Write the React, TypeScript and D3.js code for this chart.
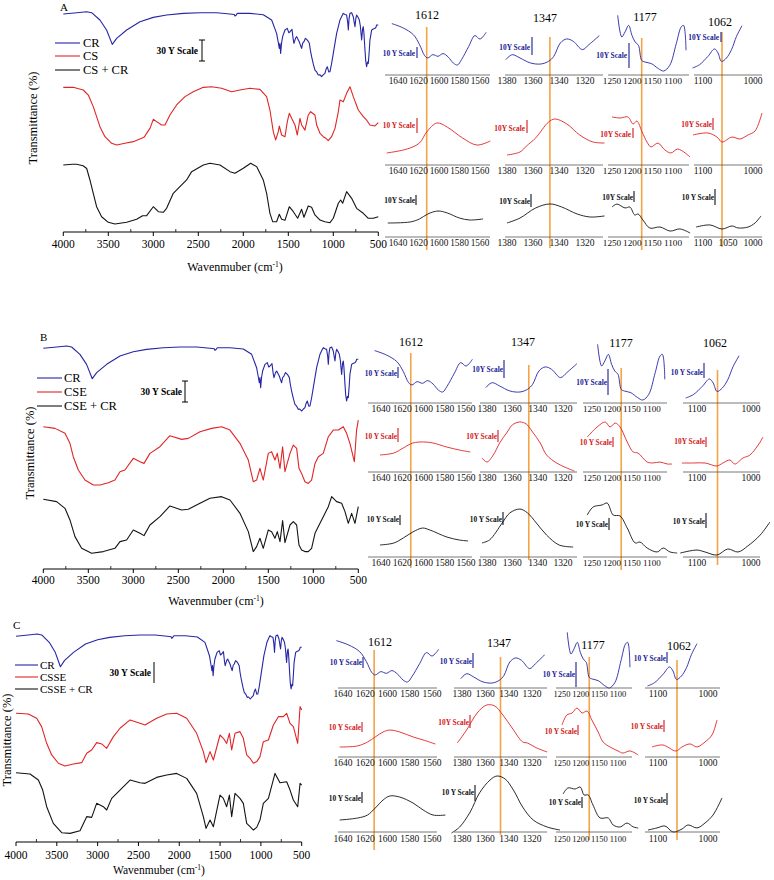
import React from "react";
import * as d3 from "d3";

type P = [number, number];

const FONT = "'Liberation Serif','Times New Roman',Times,serif";
const BLUE = "#2626a6";
const RED = "#e02525";
const BLACK = "#141414";
const ORANGE = "#f4a445";
const BLUE_TXT = "#1b1b94";
const RED_TXT = "#d21818";
const SERIES_COLORS = [BLUE, RED, BLACK];
const TEXT_COLORS = [BLUE_TXT, RED_TXT, "#111"];

// ---------------- main spectra: [wavenumber cm-1, transmittance a.u.] ----------------
const CR_MAIN: P[] = [[4000,96.7],[3850,98.5],[3741,100],[3685,98.6],[3593,88.1],[3519,73.8],[3456,53.3],[3407,61.9],[3296,73.8],[3148,85.7],[3000,91.9],[2852,95.2],[2667,97.6],[2481,98.6],[2296,98.6],[2148,96.7],[2100,96],[2093,93.8],[2080,95],[2067,97.6],[1926,97.6],[1778,95.7],[1685,88.1],[1630,69],[1610,55],[1600,47.6],[1593,55],[1585,40.5],[1575,55],[1563,64.3],[1537,73.8],[1511,76.2],[1495,70],[1481,71.4],[1459,74.8],[1445,60],[1437,54.8],[1420,62],[1407,64.3],[1390,60],[1378,57.1],[1365,52],[1352,47.6],[1340,55],[1326,57.1],[1310,62],[1296,60.5],[1280,58],[1266,54.8],[1255,45],[1241,35.7],[1220,24],[1204,16.7],[1185,14],[1167,9.5],[1150,10],[1130,7.1],[1110,10],[1093,11.9],[1080,18],[1067,21.4],[1050,14],[1037,14.3],[1020,25],[1000,40.5],[963,69],[926,88.1],[900,95],[889,97.6],[870,96],[852,95.2],[840,85],[833,73.8],[825,90],[815,97.6],[796,98.6],[778,92.9],[768,85],[759,78.6],[750,90],[741,95.2],[725,92],[711,88.1],[700,80],[685,59.5],[675,75],[667,78.6],[660,70],[648,45.2],[640,30],[630,21.4],[620,28],[611,26.2],[600,45],[593,59.5],[574,73.8],[560,75],[537,76.2],[525,78],[519,81],[500,81]];

const CS_MAIN: P[] = [[4000,98.1],[3889,98.1],[3830,96],[3778,94.3],[3722,87.1],[3667,70.5],[3630,56.2],[3593,41.9],[3537,27.6],[3463,18.1],[3407,15.7],[3315,18.1],[3222,20.5],[3130,25.3],[3100,27],[3074,32.4],[3037,39.5],[3000,52.4],[2963,49.1],[2907,44.3],[2870,44.3],[2815,58.6],[2741,72.9],[2648,84.8],[2556,91.9],[2444,98.1],[2352,99],[2241,96.7],[2130,91.9],[2037,94.3],[1926,96.7],[1815,95.2],[1741,84.8],[1704,65.7],[1667,34.8],[1641,22.9],[1611,34.8],[1600,42.9],[1574,30],[1537,27.6],[1511,49.1],[1489,61],[1463,53.8],[1426,44.3],[1400,30],[1370,53.8],[1352,44.3],[1315,37],[1278,58.6],[1252,63.3],[1204,58.6],[1185,44.3],[1148,32.4],[1111,27.6],[1082,25.3],[1056,21.9],[1019,27.6],[981,39.5],[944,63.3],[926,80],[889,77.6],[852,89.5],[815,99],[778,84.8],[722,65.7],[667,56.2],[630,51.4],[593,44.3],[537,42.9],[500,47.6]];

const CSCR_MAIN: P[] = [[4000,99],[3900,100],[3852,100],[3780,98],[3740,94],[3704,77.6],[3667,58.6],[3630,39.4],[3574,25.1],[3500,17.1],[3426,14.7],[3296,17.1],[3185,21.4],[3119,26.6],[3074,26.6],[3000,39.4],[2944,32.3],[2889,31.4],[2852,37.1],[2778,58.6],[2704,68],[2630,77.6],[2574,89.5],[2444,99],[2370,101.4],[2259,99],[2148,89.5],[2093,87.1],[2000,94.3],[1918,101.4],[1852,96.7],[1778,77.6],[1741,58.6],[1704,30],[1674,18],[1630,18],[1600,28.6],[1574,21.4],[1537,20],[1489,39.4],[1444,32.3],[1396,22.9],[1352,35.7],[1326,24.3],[1278,40.4],[1241,38.6],[1204,27.6],[1148,20.4],[1093,18],[1037,16.6],[1000,22.9],[944,44.3],[918,49],[896,44.3],[852,60.9],[796,51.4],[741,37.1],[667,30],[611,22.9],[556,22.9],[500,25.1]];

const CSE_MAIN: P[] = [[4000,100],[3870,97.6],[3759,90.5],[3704,76.2],[3667,57.1],[3611,38.1],[3537,23.8],[3444,16.7],[3370,16.7],[3278,20],[3204,23.8],[3148,35.7],[3093,38.1],[3000,54.8],[2926,50],[2881,47.6],[2815,61.9],[2704,71.4],[2593,87.1],[2463,81.9],[2389,83.3],[2259,92.9],[2130,97.6],[2019,100],[1926,95.2],[1815,76.2],[1722,52.4],[1667,21.4],[1630,23.8],[1593,40.5],[1556,23.8],[1500,61.9],[1463,64.3],[1426,52.4],[1400,61.9],[1370,40.5],[1341,71.4],[1315,35.7],[1259,61.9],[1222,73.8],[1185,69],[1159,40.5],[1130,33.3],[1093,21.4],[1056,19],[1019,23.8],[981,47.6],[944,57.1],[889,61.9],[833,85.7],[778,95.2],[722,95.2],[667,100],[630,90.5],[593,76.2],[544,50],[519,95.2],[500,109.5]];

const CSECR_MAIN: P[] = [[4000,100],[3852,96.7],[3759,87.1],[3704,70.5],[3648,46.7],[3574,30],[3463,22.9],[3333,25.3],[3204,30],[3148,39.5],[3074,41.9],[3000,56.2],[2926,51.4],[2881,48.1],[2815,63.3],[2704,75.2],[2593,90.5],[2463,84.8],[2389,85.7],[2259,94.3],[2148,101.4],[2019,103.8],[1926,99],[1815,80],[1722,53.8],[1667,25.3],[1630,32.4],[1593,44.3],[1556,30],[1500,56.2],[1463,53.8],[1426,44.3],[1400,53.8],[1370,39.5],[1341,69.5],[1315,38.1],[1259,63.3],[1222,68.1],[1185,63.3],[1159,34.8],[1130,27.6],[1093,25.3],[1056,25.3],[1019,30],[981,51.4],[944,61],[889,75.2],[833,89.5],[796,103.8],[741,96.7],[685,94.3],[648,82.4],[611,65.7],[574,80],[537,65.7],[500,89.5]];

const CSSE_MAIN: P[] = [[4000,100],[3849,99],[3747,92.9],[3686,81],[3624,57.1],[3563,40.5],[3481,28.6],[3400,24.8],[3298,27.6],[3195,29.5],[3134,42.9],[3073,47.6],[3012,58.1],[2950,56.2],[2889,50],[2807,66.7],[2726,78.6],[2603,90.5],[2481,85.7],[2419,83.3],[2277,92.9],[2154,99],[2032,100],[1909,92.9],[1787,71.4],[1705,45.2],[1672,29.5],[1623,45.2],[1582,33.3],[1501,69],[1460,64.3],[1419,57.1],[1386,71.4],[1358,47.6],[1317,71.4],[1256,73.8],[1215,64.3],[1174,40.5],[1133,35.7],[1092,28.6],[1051,31],[1011,38.1],[970,59.5],[908,61.9],[847,83.3],[786,95.2],[725,95.2],[684,100],[643,85.7],[602,81],[549,57.1],[520,109.5],[500,104.8]];

const CSSECR_MAIN: P[] = [[4000,100],[3828,98.1],[3726,89.5],[3673,75.2],[3624,51.4],[3543,27.6],[3440,14.3],[3338,13.3],[3216,17.1],[3134,37.2],[3073,36.2],[3012,56.2],[2930,51.4],[2889,46.7],[2828,63.3],[2726,75.2],[2603,89.5],[2481,85.7],[2419,84.8],[2277,93.3],[2154,96.7],[2032,99],[1909,91.9],[1787,70.5],[1705,37.2],[1672,20.5],[1623,32.4],[1582,22.9],[1501,68.1],[1460,63.3],[1419,51.4],[1386,68.1],[1358,37.2],[1317,70.5],[1256,63.3],[1215,56.2],[1174,27.6],[1133,22.9],[1092,18.1],[1051,21.9],[1011,32.4],[970,56.2],[908,63.3],[827,99],[766,85.7],[684,87.1],[643,75.2],[602,61],[549,51.4],[520,84.8],[500,82.4]];

// ---------------- inset spectra: [wavenumber, relative transmittance] ----------------
const CR_1612: P[] = [[1646,27.6],[1635,24.7],[1625,20.2],[1619,13.6],[1614,6.2],[1611,4.7],[1606,6.9],[1601,5.8],[1596,7.6],[1591,5.3],[1586,1.3],[1582,0],[1578,3.6],[1571,12.4],[1565,19.6],[1560,17.3],[1554,21.8]];
const CR_1347: P[] = [[1381,2.9],[1376,6.2],[1370,4],[1362,0.7],[1354,0],[1348,1.8],[1344,5.1],[1339,14],[1334,16.7],[1329,15.1],[1322,9.6],[1317,12.9],[1309,18.9]];
const CR_1177: P[] = [[1236,37.1],[1226,22.7],[1218,26],[1209,30.4],[1201,23.8],[1193,19.3],[1185,17.1],[1177,7.1],[1169,6],[1153,4.9],[1136,1.6],[1123,0],[1108,3.8],[1092,18.2],[1080,29.3],[1074,30.4],[1068,13.8]];
const CR_1062: P[] = [[1121,0],[1107,2.2],[1090,7.8],[1077,12.7],[1070,10],[1063,4.4],[1053,6.7],[1043,12.2],[1033,21.1],[1022,28.2]];

const CS_1612: P[] = [[1651,0],[1631,2.7],[1619,6.7],[1612,14],[1602,20],[1592,17.3],[1577,10],[1563,5.3],[1550,8]];
const CS_1347: P[] = [[1380,0],[1370,2],[1365,6],[1358,11.3],[1348,22],[1343,24],[1334,20.7],[1324,13.3],[1314,8.7],[1305,8]];
const CS_1177: P[] = [[1250,26.7],[1230,26],[1211,26.7],[1198,22],[1189,24],[1176,16.7],[1164,10],[1154,6.7],[1137,9.3],[1120,4.7],[1105,2.7],[1088,5.3],[1058,0]];
const CS_1062: P[] = [[1120,4.7],[1090,6],[1072,3.3],[1062,0],[1042,3.3],[1026,2],[1010,4.7],[996,7.3],[982,19.3]];

const CSCR_1612: P[] = [[1650,0],[1628,0.7],[1619,2.7],[1611,6],[1601,8],[1592,6.7],[1580,3.3],[1570,2],[1557,2.7]];
const CSCR_1347: P[] = [[1380,0],[1370,3.3],[1358,10],[1347,12.7],[1338,10.7],[1326,6],[1316,4],[1305,4.7]];
const CSCR_1177: P[] = [[1250,17.3],[1238,19.3],[1218,16.7],[1206,17.3],[1194,12],[1186,12.7],[1174,8.7],[1157,3.3],[1132,4],[1107,1.3],[1083,2.7],[1058,0]];
const CSCR_1062: P[] = [[1114,1.3],[1086,2.7],[1062,0],[1042,2],[1030,0.7],[1010,1.3],[996,4],[984,8.7]];

const CSE_1612: P[] = [[1641,0],[1628,1.3],[1619,4.7],[1610,8],[1600,8.7],[1591,8],[1578,5.3],[1566,3.3],[1556,2]];
const CSE_1347: P[] = [[1384,8.7],[1380,6],[1375,10.7],[1370,18.7],[1364,26],[1360,30.7],[1354,32.7],[1349,31.3],[1344,26],[1338,18.7],[1333,10.7],[1325,5.3],[1317,2],[1311,0]];
const CSE_1177: P[] = [[1262,18],[1237,24.7],[1217,28],[1205,24.7],[1192,27.3],[1180,24.7],[1162,14.7],[1147,8],[1135,7.3],[1112,1.3],[1097,0.7],[1080,1.3],[1062,0],[1050,0]];
const CSE_1062: P[] = [[1128,2],[1107,2],[1085,2],[1063,0],[1052,2],[1039,4],[1030,1.3],[1015,5.3],[1002,7.3],[983,16],[978,19.3]];

const CSECR_1612: P[] = [[1641,0],[1628,1.3],[1619,4.7],[1610,8.7],[1601,11.3],[1594,10],[1578,5.3],[1566,3.3],[1558,2.7]];
const CSECR_1347: P[] = [[1384,2.7],[1378,4.7],[1368,16],[1362,22.7],[1354,25.3],[1348,22.7],[1341,16],[1333,8],[1323,1.3],[1312,0]];
const CSECR_1177: P[] = [[1262,25.3],[1247,30.7],[1225,32],[1212,33.3],[1197,25.3],[1180,24.7],[1162,16.7],[1142,6.7],[1130,7.3],[1112,3.3],[1087,0.7],[1072,3.3],[1055,0.7],[1037,0]];
const CSECR_1062: P[] = [[1131,1.3],[1100,3.3],[1085,2],[1063,0],[1043,4],[1024,2],[1006,6],[983,13.3],[965,22]];

const CSSE_1612: P[] = [[1643,0],[1627,0.7],[1618,3.3],[1611,6.7],[1604,10],[1598,11.3],[1589,10],[1577,6.7],[1568,4.7],[1557,2]];
const CSSE_1347: P[] = [[1384,6],[1376,14.7],[1367,26],[1359,31.3],[1352,30.7],[1345,24.7],[1337,16],[1328,6.7],[1324,6],[1316,2.7],[1307,0]];
const CSSE_1177: P[] = [[1250,20],[1237,26.7],[1223,28],[1210,31.3],[1196,28],[1183,29.3],[1170,23.3],[1153,15.3],[1140,8.7],[1121,5.3],[1100,2.7],[1087,1.3],[1068,2.7],[1046,0]];
const CSSE_1062: P[] = [[1112,2.7],[1090,4],[1064,0],[1052,2.7],[1036,4.7],[1022,2.7],[1006,6],[992,10.7],[982,20.7]];

const CSSECR_1612: P[] = [[1643,0],[1627,1.3],[1618,3.3],[1611,8],[1604,13.3],[1598,16],[1589,15.3],[1577,11.3],[1568,6.7],[1559,3.3],[1548,3.3]];
const CSSECR_1347: P[] = [[1389,0],[1382,4],[1373,14],[1365,26.7],[1356,35.3],[1350,38],[1343,36],[1336,28.7],[1328,17.3],[1319,8.7],[1307,4],[1296,2]];
const CSSECR_1177: P[] = [[1247,22.7],[1234,26.7],[1215,26],[1201,27.3],[1191,22],[1180,22],[1167,15.3],[1148,6.7],[1126,6.7],[1113,2],[1094,0.7],[1076,3.3],[1059,0.7],[1046,0]];
const CSSECR_1062: P[] = [[1120,1.3],[1102,2.7],[1086,4],[1070,0],[1052,2],[1040,4.7],[1022,2.7],[1006,6],[990,11.3],[972,22.7]];

// ---------------- axis ticks / labels ----------------
const MAIN_TICKS = [4000, 3500, 3000, 2500, 2000, 1500, 1000, 500];
const MINOR_TICKS = [3750, 3250, 2750, 2250, 1750, 1250, 750];
const PEAKS = [1612, 1347, 1177, 1062];
const INSET_TICKS = [[1640, 1620, 1600, 1580, 1560], [1380, 1360, 1340, 1320], [1250, 1200, 1150, 1100], [1100, 1000]];
const INSET_TICKS_A3_COL4 = [1100, 1050, 1000];

// ---------------- layout ----------------
const PANELS = [
  {
    letter: "A", letterPos: [60, 11], xr: [63.3, 378.3], axisY: 232, tickLabelY: 244, title: [235, 267], titleSize: 12,
    tops: [11.7, 86, 164.3], series: [CR_MAIN, CS_MAIN, CSCR_MAIN],
    legend: ["CR", "CS", "CS + CR"], legendX: [55, 80, 83], legendY: [43, 56, 70], legendSize: 12.5,
    scale: { tx: 198, ty: 51, bx: 202, y0: 40, caps: true }, ylab: [33, 118],
    insets: [[CR_1612, CR_1347, CR_1177, CR_1062], [CS_1612, CS_1347, CS_1177, CS_1062], [CSCR_1612, CSCR_1347, CSCR_1177, CSCR_1062]],
    geo: {
      xRef: [[398, 480], [507, 585], [612, 673], [703, 753]],
      axisX: [[385, 490], [505, 603], [608, 689], [694, 762]],
      rowAxisY: [75, 165, 237], rowLabelY: [81, 171, 243],
      base: [[65, 64, 71, 68], [153, 155, 157, 142], [223, 223, 233, 229]],
      title: [[427, 15], [545, 18], [645, 17], [720, 22]],
      orange: [[27, 250], [37, 248], [38, 250], [32, 247]],
      scales: [
        [["10 Y Scale", 415, 53, 417, 47, 58], ["10Y Scale", 530, 47, 532, 37, 55], ["10Y Scale", 627, 55, 629, 43, 68], ["10Y Scale", 719, 37, 721, 32, 42]],
        [["10 Y Scale", 415, 125, 417, 118, 133], ["10Y Scale", 525, 128, 527, 120, 133], ["10Y Scale", 631, 134, 633, 128, 138], ["10Y Scale", 712, 124, 713, 118, 130]],
        [["10Y Scale", 415, 200, 416, 195, 205], ["10Y Scale", 530, 201, 531, 194, 207], ["10Y Scale", 633, 197, 634, 191, 202], ["10 Y Scale", 714, 197, 715, 189, 205]],
      ],
    },
  },
  {
    letter: "B", letterPos: [40, 341], xr: [43.3, 358.3], axisY: 569, tickLabelY: 580, title: [216, 601], titleSize: 12,
    tops: [346, 426.7, 499.3], series: [CR_MAIN, CSE_MAIN, CSECR_MAIN],
    legend: ["CR", "CSE", "CSE + CR"], legendX: [37, 62, 64], legendY: [378, 392, 406], legendSize: 12.5,
    scale: { tx: 182, ty: 392, bx: 185, y0: 381, caps: true }, ylab: [30, 453],
    insets: [[CR_1612, CR_1347, CR_1177, CR_1062], [CSE_1612, CSE_1347, CSE_1177, CSE_1062], [CSECR_1612, CSECR_1347, CSECR_1177, CSECR_1062]],
    geo: {
      xRef: [[381, 466], [487, 563], [592, 652], [697, 751]],
      axisX: [[368, 472], [480, 577], [583, 667], [683, 760]],
      rowAxisY: [403, 472, 557], rowLabelY: [409, 478, 563],
      base: [[392, 392, 400, 398], [455, 471, 464, 466], [545, 547, 553, 555]],
      title: [[411, 342], [523, 342], [621, 343], [715, 343]],
      orange: [[353, 568], [365, 560], [368, 570], [370, 565]],
      scales: [
        [["10 Y Scale", 397, 373, 398, 367, 378], ["10Y Scale", 503, 369, 504, 360, 378], ["10Y Scale", 607, 382, 608, 369, 395], ["10 Y Scale", 703, 372, 704, 363, 378]],
        [["10 Y Scale", 397, 436, 398, 428, 442], ["10Y Scale", 497, 436, 498, 430, 442], ["10 Y Scale", 612, 442, 613, 437, 447], ["10Y Scale", 705, 441, 706, 437, 447]],
        [["10 Y Scale", 399, 519, 400, 515, 525], ["10 Y Scale", 502, 519, 503, 512, 525], ["10 Y Scale", 608, 524, 609, 518, 530], ["10 Y Scale", 705, 521, 706, 513, 528]],
      ],
    },
  },
  {
    letter: "C", letterPos: [13, 629], xr: [16, 301.7], axisY: 842, tickLabelY: 855, title: [159, 870], titleSize: 11.5,
    tops: [634, 713.3, 772.7], series: [CR_MAIN, CSSE_MAIN, CSSECR_MAIN],
    legend: ["CR", "CSSE", "CSSE + CR"], legendX: [15, 38, 40], legendY: [665, 677, 689], legendSize: 11,
    scale: { tx: 151, ty: 673, bx: 154, y0: 662, caps: false }, ylab: [7, 740],
    insets: [[CR_1612, CR_1347, CR_1177, CR_1062], [CSSE_1612, CSSE_1347, CSSE_1177, CSSE_1062], [CSSECR_1612, CSSECR_1347, CSSECR_1177, CSSECR_1062]],
    geo: {
      xRef: [[343, 432], [462, 532], [562, 618], [658, 708]],
      axisX: [[338, 437], [454, 547], [556, 632], [645, 720]],
      rowAxisY: [688, 757, 832], rowLabelY: [694, 763, 839],
      base: [[682, 683, 688, 686], [747, 752, 755, 751], [820, 833, 828, 832]],
      title: [[380, 642], [499, 643], [593, 645], [679, 646]],
      orange: [[650, 850], [657, 835], [657, 840], [660, 840]],
      scales: [
        [["10 Y Scale", 362, 662, 363, 657, 668], ["10 Y Scale", 472, 661, 473, 653, 668], ["10 Y Scale", 575, 674, 576, 662, 687], ["10 Y Scale", 666, 658, 667, 652, 663]],
        [["10 Y Scale", 361, 727, 362, 722, 732], ["10Y Scale", 469, 722, 470, 715, 728], ["10 Y Scale", 577, 731, 578, 725, 735], ["10 Y Scale", 663, 726, 664, 720, 732]],
        [["10 Y Scale", 361, 798, 362, 792, 803], ["10 Y Scale", 474, 792, 475, 785, 801], ["10 Y Scale", 581, 802, 582, 797, 808], ["10 Y Scale", 666, 800, 667, 793, 805]],
      ],
    },
  },
];

const MAIN_PX_PER_UNIT = 0.7;
const INSET_PX_PER_UNIT = 1.5;

function MainPanel({ p }: { p: any }) {
  const x = d3.scaleLinear().domain([4000, 500]).range(p.xr);
  const scaleY = d3.scaleLinear().domain([0, 30]).range([p.scale.y0, p.scale.y0 + 30 * MAIN_PX_PER_UNIT]);
  return (
    <g>
      <text x={p.letterPos[0]} y={p.letterPos[1]} fontSize={11}>{p.letter}</text>
      {p.series.map((s: P[], i: number) => {
        const y = d3.scaleLinear().domain([100, 0]).range([p.tops[i], p.tops[i] + 100 * MAIN_PX_PER_UNIT]);
        const d = d3.line<P>().x((v) => x(v[0])).y((v) => y(v[1])).curve(d3.curveLinear)(s) || "";
        return <path key={i} d={d} fill="none" stroke={SERIES_COLORS[i]} strokeWidth={1.1} strokeLinejoin="round" />;
      })}
      <line x1={p.xr[0]} x2={p.xr[1]} y1={p.axisY} y2={p.axisY} stroke="#000" strokeWidth={1} />
      {MAIN_TICKS.map((t) => (
        <g key={t}>
          <line x1={x(t)} x2={x(t)} y1={p.axisY} y2={p.axisY + 4} stroke="#000" strokeWidth={1} />
          <text x={x(t)} y={p.tickLabelY + 4} fontSize={11.5} textAnchor="middle">{t}</text>
        </g>
      ))}
      {MINOR_TICKS.map((t) => (
        <line key={t} x1={x(t)} x2={x(t)} y1={p.axisY} y2={p.axisY - 3} stroke="#000" strokeWidth={0.8} />
      ))}
      <text x={p.title[0]} y={p.title[1] + 4} fontSize={p.titleSize} textAnchor="middle">
        Wavenmuber (cm<tspan fontSize={7.5} dy={-4.5}>-1</tspan><tspan dy={4.5}>)</tspan>
      </text>
      <text transform={`translate(${p.ylab[0]},${p.ylab[1]}) rotate(-90)`} fontSize={12.5} textAnchor="middle" dy={4}>
        Transmittance (%)
      </text>
      {p.legend.map((lab: string, i: number) => (
        <g key={lab}>
          <line x1={p.legendX[0]} x2={p.legendX[1]} y1={p.legendY[i]} y2={p.legendY[i]} stroke={SERIES_COLORS[i]} strokeWidth={1.1} />
          <text x={p.legendX[2]} y={p.legendY[i] + p.legendSize * 0.35} fontSize={p.legendSize}>{lab}</text>
        </g>
      ))}
      <text x={p.scale.tx} y={p.scale.ty + 3.3} fontSize={9.5} fontWeight="bold" textAnchor="end">30 Y Scale</text>
      <line x1={p.scale.bx} x2={p.scale.bx} y1={scaleY(0)} y2={scaleY(30)} stroke="#000" strokeWidth={1} />
      {p.scale.caps && (
        <g>
          <line x1={p.scale.bx - 3} x2={p.scale.bx + 3} y1={scaleY(0)} y2={scaleY(0)} stroke="#000" strokeWidth={1} />
          <line x1={p.scale.bx - 3} x2={p.scale.bx + 3} y1={scaleY(30)} y2={scaleY(30)} stroke="#000" strokeWidth={1} />
        </g>
      )}
    </g>
  );
}

function Insets({ p }: { p: any }) {
  const g = p.geo;
  const out: any[] = [];
  for (let c = 0; c < 4; c++) {
    const ticksC = INSET_TICKS[c];
    const [t0, t1] = [ticksC[0], ticksC[ticksC.length - 1]];
    const x = d3.scaleLinear().domain([t0, t1]).range(g.xRef[c]);
    const spacing = Math.abs(x(ticksC[1]) - x(ticksC[0]));
    const tickFont = Math.min(9.5, spacing / 2.2);
    out.push(
      <line key={`o${c}`} x1={x(PEAKS[c])} x2={x(PEAKS[c])} y1={g.orange[c][0]} y2={g.orange[c][1]} stroke={ORANGE} strokeWidth={1.6} />
    );
    out.push(
      <text key={`t${c}`} x={g.title[c][0]} y={g.title[c][1] + 4.2} fontSize={12} textAnchor="middle">{PEAKS[c]}</text>
    );
    for (let r = 0; r < 3; r++) {
      const data: P[] = p.insets[r][c];
      const base = g.base[r][c];
      const y = d3.scaleLinear().domain([0, 10]).range([base, base - 10 * INSET_PX_PER_UNIT]);
      const d = d3.line<P>().x((v) => x(v[0])).y((v) => y(v[1])).curve(d3.curveCatmullRom.alpha(0.5))(data) || "";
      const ticks = p.letter === "A" && r === 2 && c === 3 ? INSET_TICKS_A3_COL4 : ticksC;
      const sc = g.scales[r][c];
      out.push(
        <g key={`i${r}${c}`}>
          <path d={d} fill="none" stroke={SERIES_COLORS[r]} strokeWidth={0.9} />
          <line x1={g.axisX[c][0]} x2={g.axisX[c][1]} y1={g.rowAxisY[r]} y2={g.rowAxisY[r]} stroke="#555" strokeWidth={0.8} />
          {ticks.map((t: number) => (
            <text key={t} x={x(t)} y={g.rowLabelY[r] + tickFont * 0.36} fontSize={tickFont} textAnchor="middle" fill="#111">{t}</text>
          ))}
          <text x={sc[1]} y={sc[2] + 2.6} fontSize={7.4} fontWeight="bold" textAnchor="end" fill={TEXT_COLORS[r]}>{sc[0]}</text>
          <line x1={sc[3]} x2={sc[3]} y1={sc[4]} y2={sc[5]} stroke={TEXT_COLORS[r]} strokeWidth={1.1} />
        </g>
      );
    }
  }
  return <g>{out}</g>;
}

export default function App() {
  return (
    <svg
      width={774}
      height={880}
      viewBox="0 0 774 880"
      style={{ position: "absolute", left: 0, top: 0, background: "#fff" }}
      fontFamily={FONT}
    >
      <rect width={774} height={880} fill="#fff" />
      {PANELS.map((p) => (
        <g key={p.letter}>
          <Insets p={p} />
          <MainPanel p={p} />
        </g>
      ))}
    </svg>
  );
}
